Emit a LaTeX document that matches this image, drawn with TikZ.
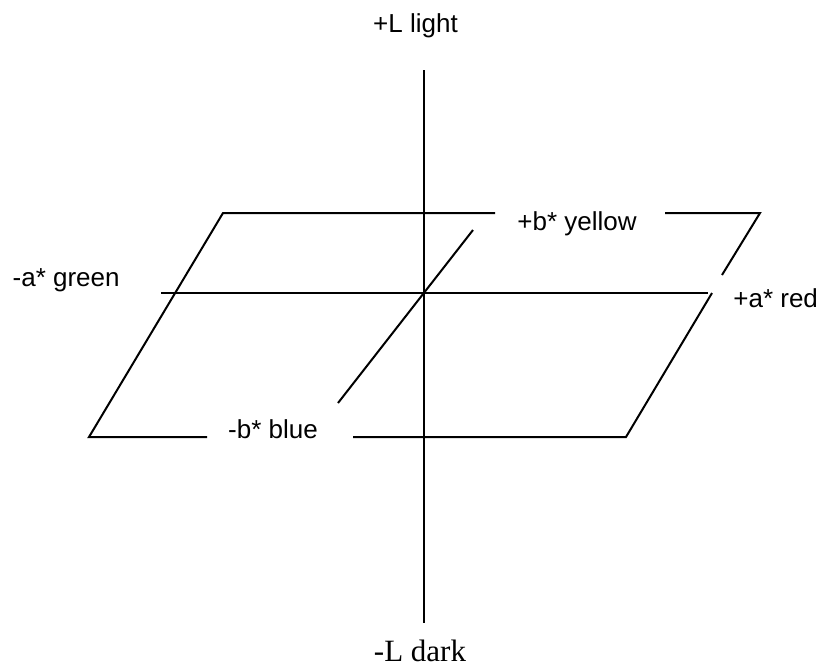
\documentclass[tikz,border=0pt]{standalone}
\usepackage{fontspec}
\setmainfont{Liberation Sans}
\newfontfamily\serifface{Liberation Serif}
\begin{document}
\begin{tikzpicture}[x=0.5pt,y=-0.5pt,
  axisline/.style={line width=1pt,line cap=butt},
  lab/.style={font=\fontsize{13pt}{15pt}\selectfont,inner sep=0pt},
  seriflab/.style={font=\serifface\fontsize{15.5pt}{18pt}\selectfont,inner sep=0pt}]
\useasboundingbox (0,0) rectangle (824,670);
% coordinates
\coordinate (Ltop) at (424,70);
\coordinate (Lbot) at (424,623);
\coordinate (Aleft) at (161,293);
\coordinate (Aright) at (708,293);
\coordinate (Bup) at (473,230);
\coordinate (Bdown) at (338,403);
\coordinate (TL) at (223,213);
\coordinate (T1) at (495,213);
\coordinate (T2) at (665,213);
\coordinate (TR) at (760,213);
\coordinate (R1) at (722,275);
\coordinate (R2) at (712,293);
\coordinate (BR) at (626,437);
\coordinate (B2) at (353,437);
\coordinate (B1) at (207,437);
\coordinate (BL) at (89,437);
% axes
\draw[axisline] (Ltop) -- (Lbot);
\draw[axisline] (Aleft) -- (Aright);
\draw[axisline] (Bdown) -- (Bup);
% plane
\draw[axisline] (B1) -- (BL) -- (TL) -- (T1);
\draw[axisline] (T2) -- (TR) -- (R1);
\draw[axisline] (R2) -- (BR) -- (B2);
% labels
\node[lab,anchor=base] (light) at (415.5,32) {+L light};
\node[seriflab,anchor=base] (dark) at (420,661) {-L dark};
\node[lab,anchor=base east] (green) at (120,286) {-a* green};
\node[lab,anchor=base west] (red) at (733,307) {+a* red};
\node[lab,anchor=base] (yellow) at (577,230) {+b* yellow};
\node[lab,anchor=base] (blue) at (273,438) {-b* blue};
\end{tikzpicture}
\end{document}
